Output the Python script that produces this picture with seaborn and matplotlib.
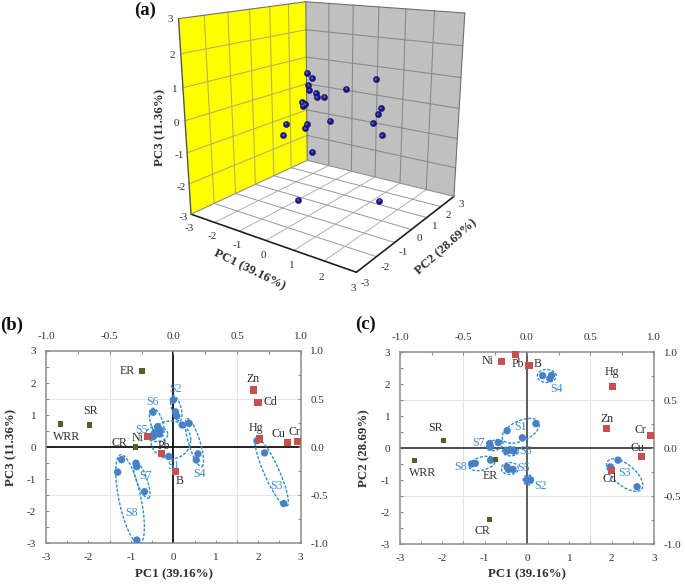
import numpy as np
import pandas as pd
import matplotlib
matplotlib.use("Agg")
import matplotlib.pyplot as plt
from matplotlib.ticker import MultipleLocator, FixedLocator
from mpl_toolkits.mplot3d import proj3d
from mpl_toolkits.mplot3d.art3d import Poly3DCollection
import seaborn as sns

# ---------- data ----------
sites = ["S1"]*3 + ["S2"]*3 + ["S3"]*3 + ["S4"]*3 + ["S5"]*3 + ["S6"]*3 + ["S7"]*3 + ["S8"]*3
pc1 = [-0.47,-0.11,0.21, 0.00,0.05,0.08, 1.97,2.15,2.60, 0.37,0.54,0.58,
       -0.47,-0.44,-0.33, -0.48,-0.37,-0.31, -0.88,-0.86,-0.68, -1.31,-1.22,-0.86]
pc2 = [0.54,0.32,0.76, -1.00,-1.00,-1.00, -0.59,-0.38,-1.21, 2.26,2.17,2.27,
       -0.59,-0.67,-0.67, -0.10,-0.07,-0.10, 0.14,0.04,0.17, -0.50,-0.48,-0.38]
pc3 = [0.38,-0.29,0.69, 1.47,1.10,0.97, 0.20,-0.18,-1.76, 0.74,-0.40,-0.21,
       0.33,0.45,0.41, 1.09,0.64,0.52, -0.50,-0.61,-1.39, -0.78,-0.39,-2.90]

metals = ["Zn","Cd","Hg","Cu","Cr","Ni","Pb","B"]
metal_l1 = [0.626,0.665,0.675,0.899,0.972,-0.202,-0.09,0.016]
metal_l2 = [0.20,-0.234,0.643,-0.092,0.13,0.90,0.972,0.861]
metal_l3 = [0.594,0.466,0.085,0.047,0.057,0.109,-0.064,-0.258]

rates = ["ER","SR","WRR","CR"]
rate_l1 = [-0.246,-0.66,-0.888,-0.295]
rate_l2 = [-0.123,0.075,-0.133,-0.743]
rate_l3 = [0.792,0.23,0.24,0.002]

pc1_label = "PC1 (39.16%)"
pc2_label = "PC2 (28.69%)"
pc3_label = "PC3 (11.36%)"
ticks_pc = [-3,-2,-1,0,1,2,3]
ticks_load = [-1.0,-0.5,0.0,0.5,1.0]

# text label positions (loading scale)
b_black = {"ER":(-0.361,0.792),"SR":(-0.652,0.376),"WRR":(-0.84,0.109),"CR":(-0.427,0.047),
           "Ni":(-0.28,0.099),"Pb":(-0.073,0.016),"B":(0.05,-0.352),"Zn":(0.628,0.709),
           "Cd":(0.762,0.466),"Hg":(0.649,0.203),"Cu":(0.825,0.133),"Cr":(0.948,0.161)}
b_blue = {"S1":(0.003,-0.192),"S2":(0.013,0.601),"S3":(0.809,-0.40),"S4":(0.202,-0.283),
          "S5":(-0.246,0.179),"S6":(-0.165,0.47),"S7":(-0.217,-0.296),"S8":(-0.327,-0.688)}
c_black = {"Ni":(-0.311,0.906),"Pb":(-0.075,0.879),"B":(0.083,0.879),"Hg":(0.67,0.789),
           "Zn":(0.628,0.307),"Cr":(0.893,0.192),"Cu":(0.869,0.005),"Cd":(0.649,-0.328),
           "SR":(-0.717,0.213),"WRR":(-0.819,-0.258),"ER":(-0.287,-0.289),"CR":(-0.35,-0.865)}
c_blue = {"S1":(-0.048,0.217),"S2":(0.109,-0.397),"S3":(0.764,-0.258),"S4":(0.232,0.619),
          "S5":(-0.025,-0.206),"S6":(-0.009,-0.033),"S7":(-0.384,0.047),"S8":(-0.523,-0.196)}

# ellipses: centre (PC scale), semi-axes (px), angle (deg)
b_ell = [(-0.062,0.224,20,19,0),(0.07,1.21,13,4.7,-75),(2.318,-0.785,37,7.5,-66),(0.496,0.14,25,5.7,-73),
         (-0.392,0.41,11,7.5,0),(-0.392,0.764,15,6,-72),(-0.745,-1.024,19.5,5.2,-70),(-1.02,-1.627,45.5,11,-78)]
c_ell = [(-0.146,0.536,20,10,25),(0.027,-1.0,5,5,0),(2.308,-0.847,22,10.5,-40),(0.468,2.251,9.5,6.5,0),
         (-0.405,-0.64,8.5,6,0),(-0.389,-0.1,8,4.7,0),(-0.759,0.088,8.5,5,20),(-1.058,-0.483,13.5,6.5,15)]

# ---------- style ----------
W, H = 685, 584
sns.set_style("white")
plt.rcParams["font.family"] = ["Liberation Serif", "DejaVu Serif"]
plt.rcParams["axes.unicode_minus"] = False
TXT = "#303030"
BLUE_T = "#3f8fd2"
BLUE_D = "#4a7fc4"
BLUE_E = "#2f8fd6"
RED = "#c8504c"
GREEN = "#4f6228"
GRAYL = "#8c8c8c"
TICK_FS = 8.0
LAB_FS = 8.6
BOLD_FS = 9.3
TAG_FS = 13.5

fig = plt.figure(figsize=(W/100, H/100), dpi=100)
fig.patch.set_facecolor("white")

def frac(x, y):
    return x/W, 1-y/H

# ---------- panel (a) ----------
L = 329.95
ax3 = fig.add_axes([157.42/W, 300.2/H, L/W, L/H], projection="3d")
ax3.set_xlim(-3,3); ax3.set_ylim(-3,3); ax3.set_zlim(-3,3)
ax3.view_init(15.71, -54.78)
ax3.set_proj_type("persp", focal_length=0.351)
ax3.set_box_aspect((1.015,1,1.008))
ax3.set_axis_off()
ax3.computed_zorder = False
ax3.patch.set_alpha(0)

def wall(pts, color, z):
    ax3.add_collection3d(Poly3DCollection([pts], facecolors=color, edgecolors="none", zorder=z))
wall([(-3,-3,-3),(-3,3,-3),(-3,3,3),(-3,-3,3)], "#ffff00", 1)
wall([(-3,3,-3),(3,3,-3),(3,3,3),(-3,3,3)], "#c0c0c0", 1)
wall([(-3,-3,-3),(3,-3,-3),(3,3,-3),(-3,3,-3)], "#ffffff", 1)
for v in ticks_pc[1:-1]:
    ax3.plot([-3,-3],[v,v],[-3,3],color="#b4b45a",lw=0.8,zorder=2)
    ax3.plot([-3,-3],[-3,3],[v,v],color="#b4b45a",lw=0.8,zorder=2)
    ax3.plot([v,v],[3,3],[-3,3],color="#8a8a8a",lw=0.8,zorder=2)
    ax3.plot([-3,3],[3,3],[v,v],color="#8a8a8a",lw=0.8,zorder=2)
    ax3.plot([v,v],[-3,3],[-3,-3],color="#b0b0b0",lw=0.7,zorder=2)
    ax3.plot([-3,3],[v,v],[-3,-3],color="#989898",lw=0.7,zorder=2)
for e in [((-3,-3),(-3,3),(3,3)),((-3,3),(3,3),(3,3)),((3,3),(3,3),(-3,3)),((-3,-3),(3,3),(-3,3))]:
    ax3.plot(*e,color="#707070",lw=0.8,zorder=3)
ax3.plot([-3,-3],[-3,-3],[-3,3],color="#555555",lw=1.0,zorder=3)
ax3.plot([-3,3],[-3,-3],[-3,-3],color="#202020",lw=1.2,zorder=3)
ax3.plot([3,3],[-3,3],[-3,-3],color="#202020",lw=1.2,zorder=3)
ax3.plot([-3,3],[3,3],[-3,-3],color="#909090",lw=0.8,zorder=3)
ax3.plot([-3,-3],[-3,3],[-3,-3],color="#909090",lw=0.8,zorder=3)
ax3.scatter(pc1, pc2, pc3, color="#17178a", s=20, depthshade=False, edgecolors="#0a0a50", linewidths=0.3, zorder=5)
ax3.scatter(pc1, pc2, pc3, color="#5a5ab8", s=3, depthshade=False, edgecolors="none", zorder=6)

def label3d(x, y, z, s):
    x2, y2, _ = proj3d.proj_transform(x, y, z, ax3.get_proj())
    ax3.text2D(x2, y2, s, transform=ax3.transData, ha="center", va="center", fontsize=TICK_FS, color=TXT)
for v in ticks_pc:
    label3d(-3, -3.32, v, str(v))
    label3d(v, -3.12, -3.42, str(v))
    label3d(3.27, v, -3.22, str(v))
fig.text(*frac(250,270), pc1_label, rotation=-26, ha="center", va="center", fontsize=BOLD_FS, fontweight="bold", color=TXT)
fig.text(*frac(446,247), pc2_label, rotation=41.5, ha="center", va="center", fontsize=BOLD_FS, fontweight="bold", color=TXT)
fig.text(*frac(160,127), pc3_label, rotation=90, ha="center", va="center", fontsize=BOLD_FS, fontweight="bold", color=TXT)
fig.text(*frac(145,10), "(a)", ha="center", va="center", fontsize=TAG_FS, fontweight="bold", color="#111111")

# ---------- panels (b), (c) ----------
def panel(rect_px, pcy, ly_m, ly_r, ylab, black, blue, ells, tag, tagxy, xlabxy, ylabxy):
    x0, y0, x1, y1 = rect_px
    rect = [x0/W, 1-y1/H, (x1-x0)/W, (y1-y0)/H]
    ax = fig.add_axes(rect)
    ax.set_xlim(-3,3); ax.set_ylim(-3,3)
    ax.set_facecolor("none")
    for s in ax.spines.values():
        s.set_color(GRAYL); s.set_linewidth(1.1)
    ax.xaxis.set_major_locator(FixedLocator(ticks_pc))
    ax.yaxis.set_major_locator(FixedLocator(ticks_pc))
    ax.xaxis.set_minor_locator(MultipleLocator(0.5))
    ax.yaxis.set_minor_locator(MultipleLocator(0.5))
    ax.tick_params(which="major", direction="in", length=2.5, width=0.8, color=GRAYL, labelsize=TICK_FS,
                   labelcolor=TXT, bottom=True, left=True, pad=7)
    ax.tick_params(which="minor", direction="in", length=2.5, width=0.8, color=GRAYL, bottom=True, left=True)
    for v in (-1.5, 1.5):
        ax.axvline(v, color="#e4e4e4", lw=0.8, zorder=0)
        ax.axhline(v, color="#e4e4e4", lw=0.8, zorder=0)
    ax.axhline(0, color="#101010" if tag=="(b)" else "#404040", lw=1.3, zorder=1)
    ax.axvline(0, color="#101010" if tag=="(b)" else "#505050", lw=1.3, zorder=1)
    df = pd.DataFrame({"x": pc1, "y": pcy, "site": sites})
    sns.scatterplot(data=df, x="x", y="y", color=BLUE_D, s=28, edgecolor="none", ax=ax, zorder=4, legend=False)
    ax.set_xlabel(""); ax.set_ylabel("")
    sx = (x1-x0)/6; sy = (y1-y0)/6
    t = np.linspace(0, 2*np.pi, 100)
    for cx, cy, a, b, ang in ells:
        th = np.deg2rad(ang)
        ax.plot(cx + (a*np.cos(t)*np.cos(th) - b*np.sin(t)*np.sin(th))/sx,
                cy + (a*np.cos(t)*np.sin(th) + b*np.sin(t)*np.cos(th))/sy,
                ls=(0,(2.2,1.1)), color=BLUE_E, lw=1.0, zorder=5)
    ol = fig.add_axes(rect)
    ol.set_xlim(-1,1); ol.set_ylim(-1,1)
    ol.patch.set_alpha(0)
    for s in ol.spines.values():
        s.set_visible(False)
    ol.xaxis.tick_top(); ol.yaxis.tick_right()
    ol.set_xticks(ticks_load); ol.set_yticks(ticks_load)
    ol.set_xticklabels([f"{v:.1f}" for v in ticks_load])
    ol.set_yticklabels([f"{v:.1f}" for v in ticks_load])
    ol.xaxis.set_minor_locator(MultipleLocator(0.25))
    ol.yaxis.set_minor_locator(MultipleLocator(0.25))
    ol.tick_params(which="both", direction="in", length=2.5, width=0.8, color=GRAYL, top=True, right=True)
    ol.tick_params(which="major", labelsize=TICK_FS, labelcolor=TXT, pad=7)
    dm = pd.DataFrame({"x": metal_l1, "y": ly_m})
    dr = pd.DataFrame({"x": rate_l1, "y": ly_r})
    sns.scatterplot(data=dm, x="x", y="y", color=RED, marker="s", s=26, edgecolor="none", ax=ol, zorder=6, legend=False, clip_on=False)
    sns.scatterplot(data=dr, x="x", y="y", color=GREEN, marker="s", s=14, edgecolor="none", ax=ol, zorder=6, legend=False)
    ol.set_xlabel(""); ol.set_ylabel("")
    for k, (tx, ty) in black.items():
        ol.text(tx, ty, k, ha="center", va="center", fontsize=LAB_FS, color=TXT, zorder=7)
    for k, (tx, ty) in blue.items():
        ol.text(tx, ty, k, ha="center", va="center", fontsize=LAB_FS, color=BLUE_T, zorder=7)
    fig.text(*frac(*xlabxy), pc1_label, ha="center", va="center", fontsize=BOLD_FS, fontweight="bold", color=TXT)
    fig.text(*frac(*ylabxy), ylab, rotation=90, ha="center", va="center", fontsize=BOLD_FS, fontweight="bold", color=TXT)
    fig.text(*frac(*tagxy), tag, ha="center", va="center", fontsize=TAG_FS, fontweight="bold", color="#111111")

panel((46,351,300.7,543.3), pc3, metal_l3, rate_l3, pc3_label, b_black, b_blue, b_ell, "(b)", (12,325), (174,574), (11,447))
panel((400,352,654,544), pc2, metal_l2, rate_l2, pc2_label, c_black, c_blue, c_ell, "(c)", (365,324), (527,574), (364,448))

fig.savefig("out.png", dpi=100)
